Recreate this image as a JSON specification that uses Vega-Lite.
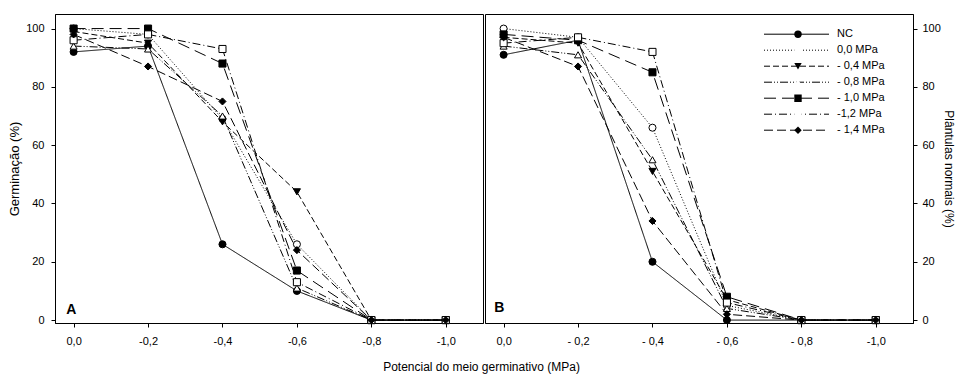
{
  "$schema": "https://vega.github.io/schema/vega-lite/v6.json",
  "padding": {"left": 8, "top": 13, "right": 0, "bottom": 3},
  "datasets": {
    "germ": [
      {"serie": "NC", "potencial": 0, "valor": 92}, {"serie": "NC", "potencial": -0.2, "valor": 94}, {"serie": "NC", "potencial": -0.4, "valor": 26}, {"serie": "NC", "potencial": -0.6, "valor": 10}, {"serie": "NC", "potencial": -0.8, "valor": 0}, {"serie": "NC", "potencial": -1.0, "valor": 0},
      {"serie": "0,0 MPa", "potencial": 0, "valor": 100}, {"serie": "0,0 MPa", "potencial": -0.2, "valor": 98}, {"serie": "0,0 MPa", "potencial": -0.4, "valor": 69}, {"serie": "0,0 MPa", "potencial": -0.6, "valor": 26}, {"serie": "0,0 MPa", "potencial": -0.8, "valor": 0}, {"serie": "0,0 MPa", "potencial": -1.0, "valor": 0},
      {"serie": "- 0,4 MPa", "potencial": 0, "valor": 99}, {"serie": "- 0,4 MPa", "potencial": -0.2, "valor": 95}, {"serie": "- 0,4 MPa", "potencial": -0.4, "valor": 68}, {"serie": "- 0,4 MPa", "potencial": -0.6, "valor": 44}, {"serie": "- 0,4 MPa", "potencial": -0.8, "valor": 0}, {"serie": "- 0,4 MPa", "potencial": -1.0, "valor": 0},
      {"serie": "- 0,8 MPa", "potencial": 0, "valor": 94}, {"serie": "- 0,8 MPa", "potencial": -0.2, "valor": 93}, {"serie": "- 0,8 MPa", "potencial": -0.4, "valor": 70}, {"serie": "- 0,8 MPa", "potencial": -0.6, "valor": 11}, {"serie": "- 0,8 MPa", "potencial": -0.8, "valor": 0}, {"serie": "- 0,8 MPa", "potencial": -1.0, "valor": 0},
      {"serie": "- 1,0 MPa", "potencial": 0, "valor": 100}, {"serie": "- 1,0 MPa", "potencial": -0.2, "valor": 100}, {"serie": "- 1,0 MPa", "potencial": -0.4, "valor": 88}, {"serie": "- 1,0 MPa", "potencial": -0.6, "valor": 17}, {"serie": "- 1,0 MPa", "potencial": -0.8, "valor": 0}, {"serie": "- 1,0 MPa", "potencial": -1.0, "valor": 0},
      {"serie": "-1,2 MPa", "potencial": 0, "valor": 96}, {"serie": "-1,2 MPa", "potencial": -0.2, "valor": 98}, {"serie": "-1,2 MPa", "potencial": -0.4, "valor": 93}, {"serie": "-1,2 MPa", "potencial": -0.6, "valor": 13}, {"serie": "-1,2 MPa", "potencial": -0.8, "valor": 0}, {"serie": "-1,2 MPa", "potencial": -1.0, "valor": 0},
      {"serie": "- 1,4 MPa", "potencial": 0, "valor": 98}, {"serie": "- 1,4 MPa", "potencial": -0.2, "valor": 87}, {"serie": "- 1,4 MPa", "potencial": -0.4, "valor": 75}, {"serie": "- 1,4 MPa", "potencial": -0.6, "valor": 24}, {"serie": "- 1,4 MPa", "potencial": -0.8, "valor": 0}, {"serie": "- 1,4 MPa", "potencial": -1.0, "valor": 0}
    ],
    "plant": [
      {"serie": "NC", "potencial": 0, "valor": 91}, {"serie": "NC", "potencial": -0.2, "valor": 96}, {"serie": "NC", "potencial": -0.4, "valor": 20}, {"serie": "NC", "potencial": -0.6, "valor": 0}, {"serie": "NC", "potencial": -0.8, "valor": 0}, {"serie": "NC", "potencial": -1.0, "valor": 0},
      {"serie": "0,0 MPa", "potencial": 0, "valor": 100}, {"serie": "0,0 MPa", "potencial": -0.2, "valor": 97}, {"serie": "0,0 MPa", "potencial": -0.4, "valor": 66}, {"serie": "0,0 MPa", "potencial": -0.6, "valor": 5}, {"serie": "0,0 MPa", "potencial": -0.8, "valor": 0}, {"serie": "0,0 MPa", "potencial": -1.0, "valor": 0},
      {"serie": "- 0,4 MPa", "potencial": 0, "valor": 97}, {"serie": "- 0,4 MPa", "potencial": -0.2, "valor": 95}, {"serie": "- 0,4 MPa", "potencial": -0.4, "valor": 51}, {"serie": "- 0,4 MPa", "potencial": -0.6, "valor": 7}, {"serie": "- 0,4 MPa", "potencial": -0.8, "valor": 0}, {"serie": "- 0,4 MPa", "potencial": -1.0, "valor": 0},
      {"serie": "- 0,8 MPa", "potencial": 0, "valor": 94}, {"serie": "- 0,8 MPa", "potencial": -0.2, "valor": 91}, {"serie": "- 0,8 MPa", "potencial": -0.4, "valor": 55}, {"serie": "- 0,8 MPa", "potencial": -0.6, "valor": 4}, {"serie": "- 0,8 MPa", "potencial": -0.8, "valor": 0}, {"serie": "- 0,8 MPa", "potencial": -1.0, "valor": 0},
      {"serie": "- 1,0 MPa", "potencial": 0, "valor": 98}, {"serie": "- 1,0 MPa", "potencial": -0.2, "valor": 96}, {"serie": "- 1,0 MPa", "potencial": -0.4, "valor": 85}, {"serie": "- 1,0 MPa", "potencial": -0.6, "valor": 8}, {"serie": "- 1,0 MPa", "potencial": -0.8, "valor": 0}, {"serie": "- 1,0 MPa", "potencial": -1.0, "valor": 0},
      {"serie": "-1,2 MPa", "potencial": 0, "valor": 95}, {"serie": "-1,2 MPa", "potencial": -0.2, "valor": 97}, {"serie": "-1,2 MPa", "potencial": -0.4, "valor": 92}, {"serie": "-1,2 MPa", "potencial": -0.6, "valor": 6}, {"serie": "-1,2 MPa", "potencial": -0.8, "valor": 0}, {"serie": "-1,2 MPa", "potencial": -1.0, "valor": 0},
      {"serie": "- 1,4 MPa", "potencial": 0, "valor": 97}, {"serie": "- 1,4 MPa", "potencial": -0.2, "valor": 87}, {"serie": "- 1,4 MPa", "potencial": -0.4, "valor": 34}, {"serie": "- 1,4 MPa", "potencial": -0.6, "valor": 2}, {"serie": "- 1,4 MPa", "potencial": -0.8, "valor": 0}, {"serie": "- 1,4 MPa", "potencial": -1.0, "valor": 0}
    ]
  },
  "title": {"text": "Potencial do meio germinativo (MPa)", "orient": "bottom", "anchor": "middle", "fontSize": 12, "fontWeight": "normal", "color": "black", "offset": 15},
  "spacing": 0,
  "hconcat": [
    {
      "width": 428,
      "height": 309,
      "layer": [
        {
          "data": {"name": "germ"},
          "mark": {"type": "line", "color": "black", "strokeWidth": 1},
          "encoding": {
            "x": {"field": "potencial", "type": "quantitative", "scale": {"domain": [-1.1, 0.05], "reverse": true, "nice": false, "zero": false}, "axis": {"values": [0, -0.2, -0.4, -0.6, -0.8, -1], "labelExpr": "replace(replace(format(datum.value, '.1f'), '.', ','), '\u2212', '-')", "title": null}},
            "y": {"field": "valor", "type": "quantitative", "scale": {"domain": [-1, 105], "nice": false, "zero": false}, "axis": {"values": [0, 20, 40, 60, 80, 100], "title": "Germinação (%)"}},
            "strokeDash": {"field": "serie", "type": "nominal", "scale": {"domain": ["NC", "0,0 MPa", "- 0,4 MPa", "- 0,8 MPa", "- 1,0 MPa", "-1,2 MPa", "- 1,4 MPa"], "range": [[1, 0], [1, 2], [6, 3], [8, 2, 1, 2, 1, 2], [12, 6], [8, 3, 1, 3], [9, 4]]}, "legend": null}
          }
        },
        {
          "data": {"name": "germ"},
          "mark": {"type": "point", "filled": true, "stroke": "black", "strokeWidth": 1, "opacity": 1, "size": 50},
          "encoding": {
            "x": {"field": "potencial", "type": "quantitative"},
            "y": {"field": "valor", "type": "quantitative"},
            "shape": {"field": "serie", "type": "nominal", "scale": {"domain": ["NC", "0,0 MPa", "- 0,4 MPa", "- 0,8 MPa", "- 1,0 MPa", "-1,2 MPa", "- 1,4 MPa"], "range": ["circle", "circle", "triangle-down", "triangle-up", "square", "square", "diamond"]}, "legend": null},
            "fill": {"field": "serie", "type": "nominal", "scale": {"domain": ["NC", "0,0 MPa", "- 0,4 MPa", "- 0,8 MPa", "- 1,0 MPa", "-1,2 MPa", "- 1,4 MPa"], "range": ["black", "white", "black", "white", "black", "white", "black"]}, "legend": null}
          }
        },
        {
          "data": {"values": [{"painel": "A"}]},
          "mark": {"type": "text", "fontWeight": "bold", "fontSize": 14, "align": "left", "baseline": "alphabetic", "color": "black"},
          "encoding": {
            "x": {"datum": 0.02, "type": "quantitative"},
            "y": {"datum": 2, "type": "quantitative"},
            "text": {"field": "painel"}
          }
        }
      ]
    },
    {
      "width": 428,
      "height": 309,
      "resolve": {"legend": {"strokeDash": "independent", "shape": "independent", "fill": "independent"}},
      "layer": [
        {
          "data": {"name": "plant"},
          "mark": {"type": "line", "color": "black", "strokeWidth": 1},
          "encoding": {
            "x": {"field": "potencial", "type": "quantitative", "scale": {"domain": [-1.1, 0.05], "reverse": true, "nice": false, "zero": false}, "axis": {"values": [0, -0.2, -0.4, -0.6, -0.8, -1], "labelExpr": "datum.value == 0 ? '0,0' : datum.value == -1 ? '-1,0' : '- ' + replace(format(-datum.value, '.1f'), '.', ',')", "title": null}},
            "y": {"field": "valor", "type": "quantitative", "scale": {"domain": [-1, 105], "nice": false, "zero": false}, "axis": {"orient": "right", "values": [0, 20, 40, 60, 80, 100], "title": "Plântulas normais (%)", "labelPadding": 5, "titlePadding": 1, "titleFontSize": 12}},
            "strokeDash": {"field": "serie", "type": "nominal", "scale": {"domain": ["NC", "0,0 MPa", "- 0,4 MPa", "- 0,8 MPa", "- 1,0 MPa", "-1,2 MPa", "- 1,4 MPa"], "range": [[1, 0], [1, 2], [6, 3], [8, 2, 1, 2, 1, 2], [12, 6], [8, 3, 1, 3], [9, 4]]},
              "legend": {"orient": "none", "legendX": 278.5, "legendY": 13.5, "title": null, "symbolType": "stroke", "symbolSize": 4225, "symbolStrokeColor": "black", "symbolStrokeWidth": 1, "clipHeight": 13.4, "rowPadding": 2, "padding": 0, "labelOffset": 7.5, "labelFontSize": 11, "labelColor": "black"}}
          }
        },
        {
          "data": {"name": "plant"},
          "mark": {"type": "point", "filled": true, "stroke": "black", "strokeWidth": 1, "opacity": 1, "size": 50},
          "encoding": {
            "x": {"field": "potencial", "type": "quantitative"},
            "y": {"field": "valor", "type": "quantitative"},
            "shape": {"field": "serie", "type": "nominal", "scale": {"domain": ["NC", "0,0 MPa", "- 0,4 MPa", "- 0,8 MPa", "- 1,0 MPa", "-1,2 MPa", "- 1,4 MPa"], "range": ["circle", "circle", "triangle-down", "triangle-up", "square", "square", "diamond"]},
              "legend": {"orient": "none", "legendX": 308, "legendY": 13.5, "title": null, "symbolSize": 55, "symbolStrokeColor": "black", "symbolStrokeWidth": 1, "symbolOpacity": 1, "clipHeight": 13.4, "rowPadding": 2, "padding": 0, "labelExpr": "''"}},
            "fill": {"field": "serie", "type": "nominal", "scale": {"domain": ["NC", "0,0 MPa", "- 0,4 MPa", "- 0,8 MPa", "- 1,0 MPa", "-1,2 MPa", "- 1,4 MPa"], "range": ["black", "white", "black", "white", "black", "white", "black"]},
              "legend": {"orient": "none", "legendX": 308, "legendY": 13.5, "title": null, "symbolSize": 55, "symbolStrokeColor": "black", "symbolStrokeWidth": 1, "symbolOpacity": 1, "clipHeight": 13.4, "rowPadding": 2, "padding": 0, "labelExpr": "''"}}
          }
        },
        {
          "data": {"values": [{"painel": "B"}]},
          "mark": {"type": "text", "fontWeight": "bold", "fontSize": 14, "align": "left", "baseline": "alphabetic", "color": "black"},
          "encoding": {
            "x": {"datum": 0.025, "type": "quantitative"},
            "y": {"datum": 2.7, "type": "quantitative"},
            "text": {"field": "painel"}
          }
        }
      ]
    }
  ],
  "config": {
    "font": "Liberation Sans",
    "view": {"stroke": "black", "strokeWidth": 1},
    "axis": {"grid": false, "domainColor": "black", "tickColor": "black", "labelColor": "black", "titleColor": "black", "labelFontSize": 11, "titleFontSize": 13, "titleFontWeight": "normal", "tickSize": 4, "labelPadding": 7, "titlePadding": 4},
    "axisX": {"labelPadding": 8},
    "legend": {"labelFont": "Liberation Sans"}
  }
}
